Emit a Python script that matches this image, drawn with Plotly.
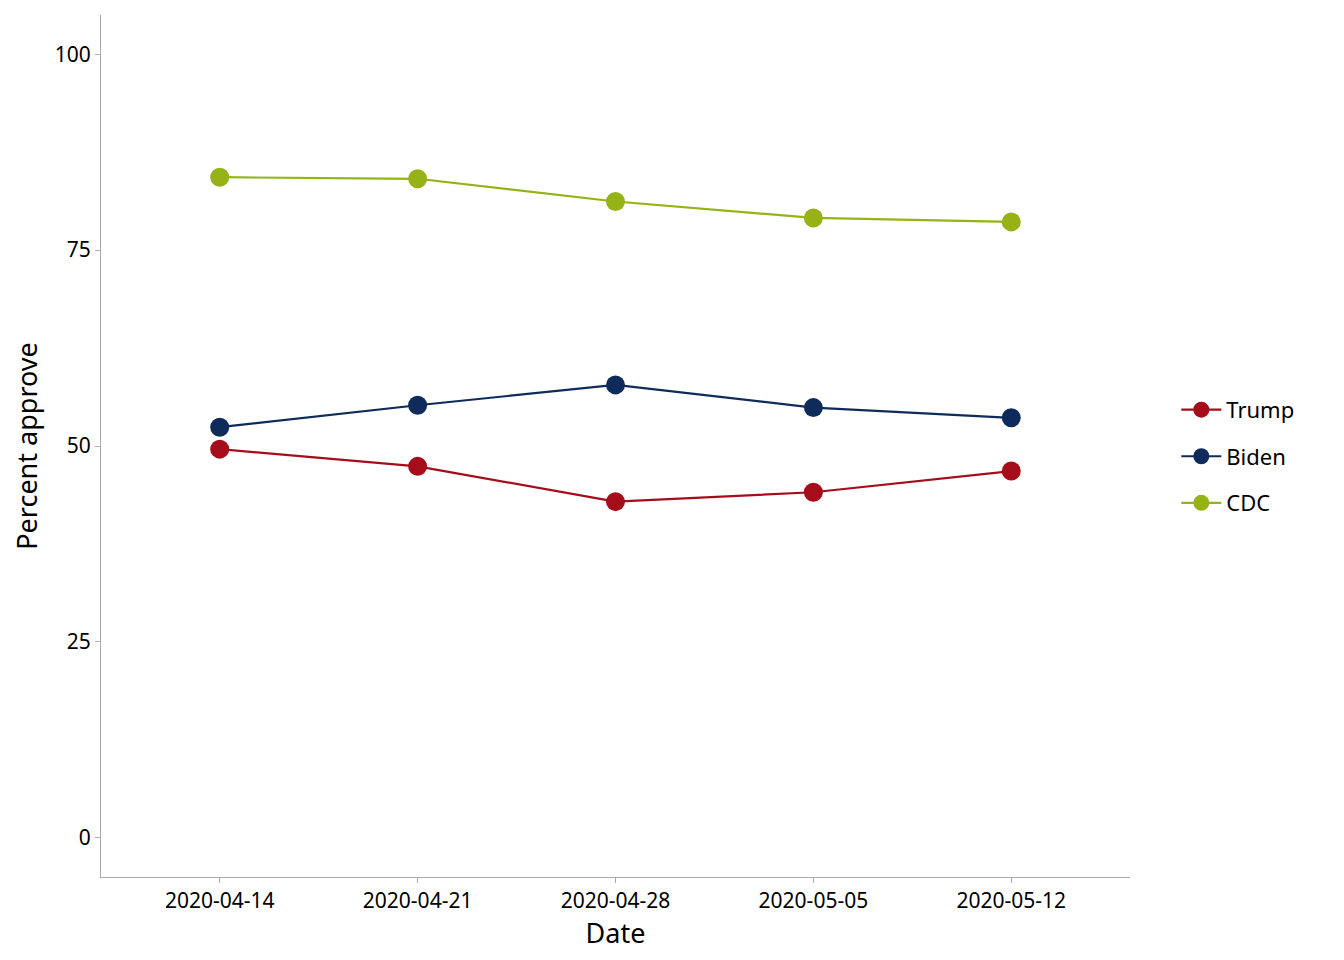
import plotly.graph_objects as go

dates = ["2020-04-14", "2020-04-21", "2020-04-28", "2020-05-05", "2020-05-12"]
series_names = ["Trump", "Biden", "CDC"]
trump = [49.6, 47.4, 42.9, 44.1, 46.8]
biden = [52.4, 55.2, 57.8, 54.9, 53.6]
cdc = [84.3, 84.1, 81.2, 79.1, 78.6]
colors = ["#A50D1B", "#0F2B5B", "#95B316"]
y_ticks = [0, 25, 50, 75, 100]

FONT = "Noto Sans"

fig = go.Figure()
for name, vals, col in zip(series_names, [trump, biden, cdc], colors):
    fig.add_trace(go.Scatter(
        x=dates, y=vals, name=name, mode="lines+markers",
        line=dict(color=col, width=2.2),
        marker=dict(color=col, size=19),
        legendgroup=name,
    ))

fig.update_layout(
    width=1344, height=960,
    paper_bgcolor="white", plot_bgcolor="white",
    margin=dict(l=93, r=222, t=7, b=91),
    font=dict(family=FONT, size=21, color="black"),
    showlegend=True,
    legend=dict(x=1.045, xanchor="left", y=0.488, yanchor="middle",
                font=dict(size=22), tracegroupgap=15, itemwidth=40,
                bgcolor="rgba(0,0,0,0)"),
    xaxis=dict(type="category", range=[-0.6, 4.6], showgrid=False,
               showline=True, linecolor="#AAAAAA", linewidth=1,
               ticks="outside", ticklen=5, tickcolor="#AAAAAA",
               tickfont=dict(size=21),
               title=dict(text="Date", font=dict(size=27), standoff=1),
               zeroline=False),
    yaxis=dict(range=[-5, 105], tickvals=y_ticks, showgrid=False,
               showline=True, linecolor="#AAAAAA", linewidth=1,
               ticks="outside", ticklen=5, tickcolor="#AAAAAA",
               tickfont=dict(size=21),
               title=dict(text="Percent approve", font=dict(size=27), standoff=14),
               zeroline=False),
)

fig.write_html("out.html")
